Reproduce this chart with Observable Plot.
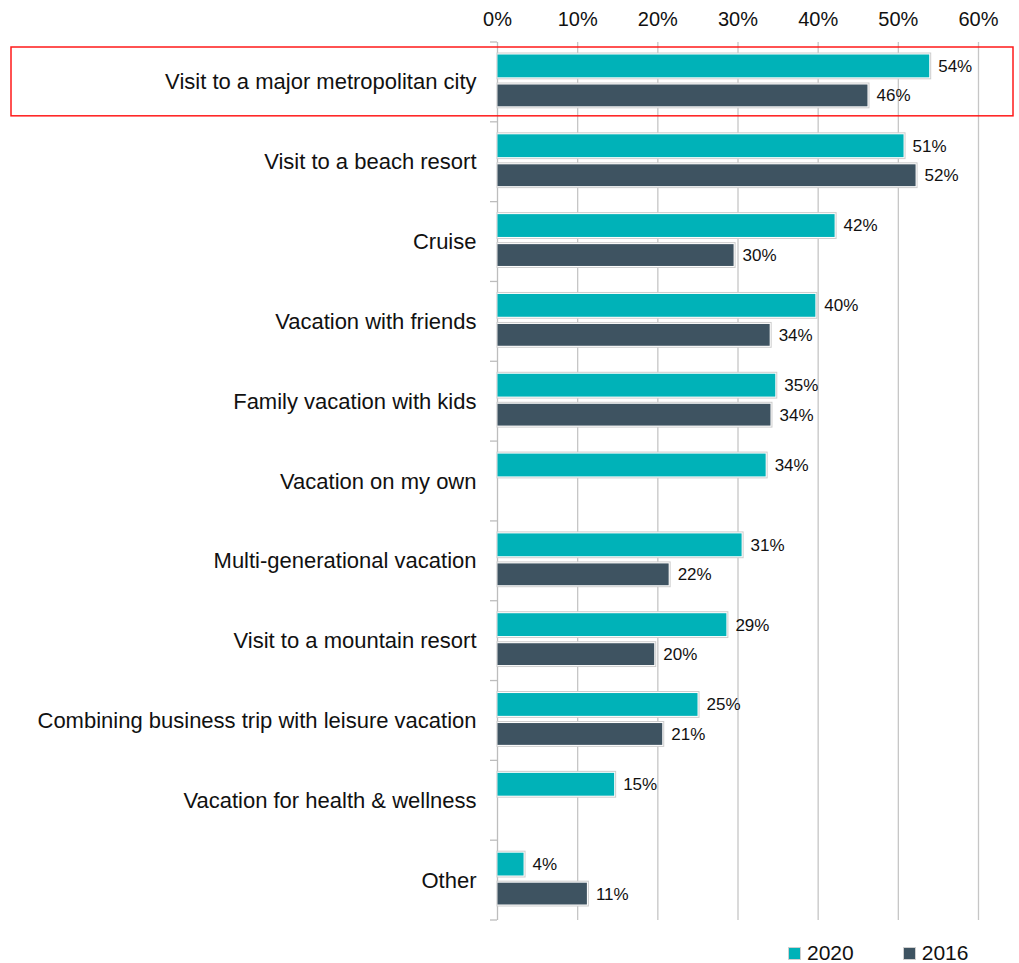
<!DOCTYPE html>
<html>
<head>
<meta charset="utf-8">
<script src="https://cdn.jsdelivr.net/npm/d3@7"></script>
<script src="https://cdn.jsdelivr.net/npm/@observablehq/plot@0.6"></script>
<style>
  body { margin: 0; background: #fff; font-family: "Liberation Sans", Arial, Helvetica, sans-serif; }
  #legend { display: flex; margin-left: 788px; margin-top: 4px; font-size: 21px; color: #111; height: 28px; align-items: center; }
  .item { display: flex; align-items: center; margin-right: 49px; }
  .sw { width: 11px; height: 11px; border: 1px solid #cfcfcf; margin-right: 6px; }
</style>
</head>
<body>
<div id="chart"></div>
<div id="legend"></div>
<script>
const categories = [
  "Visit to a major metropolitan city",
  "Visit to a beach resort",
  "Cruise",
  "Vacation with friends",
  "Family vacation with kids",
  "Vacation on my own",
  "Multi-generational vacation",
  "Visit to a mountain resort",
  "Combining business trip with leisure vacation",
  "Vacation for health & wellness",
  "Other"
];
const values2020 = [54.1, 50.9, 42.3, 39.9, 34.9, 33.7, 30.7, 28.8, 25.2, 14.8, 3.5];
const values2016 = [46.4, 52.4, 29.7, 34.2, 34.3, null, 21.6, 19.8, 20.8, null, 11.4];
const series = ["2020", "2016"];
const colors = ["#00b2b8", "#3e5361"];
const xTicks = [0, 10, 20, 30, 40, 50, 60];

const d2020 = categories.map((c, i) => ({category: c, value: values2020[i]})).filter(d => d.value != null);
const d2016 = categories.map((c, i) => ({category: c, value: values2016[i]})).filter(d => d.value != null);

const font = "'Liberation Sans', Arial, Helvetica, sans-serif";
const W = 1019, H = 935, mTop = 42, mBottom = 15, mLeft = 497, mRight = 41;

const barOpts = (top, bottom) => ({
  x: "value", y: "category", fill: "white", stroke: "#cdcdcd", strokeWidth: 1,
  insetTop: top, insetBottom: bottom
});
const fillOpts = (top, bottom, fill) => ({
  x: "value", y: "category", fill, insetTop: top + 1.5, insetBottom: bottom + 1.5, insetRight: 1.5, insetLeft: 0.5
});

const chart = Plot.plot({
  width: W, height: H,
  marginTop: mTop, marginBottom: mBottom, marginLeft: mLeft, marginRight: mRight,
  style: {fontFamily: font, color: "#111", background: "white"},
  x: {domain: [0, 60], axis: null},
  y: {domain: categories, padding: 0, round: false, axis: null},
  marks: [
    Plot.gridX(xTicks.filter(t => t > 0), {stroke: "#c6c6c6", strokeOpacity: 1, strokeWidth: 1.3}),
    Plot.ruleX([0], {stroke: "#bdbdbd", strokeWidth: 1.3}),
    Plot.axisX(xTicks, {anchor: "top", label: null, tickSize: 0, tickPadding: 17, fontSize: 20, tickFormat: d => d + "%", fill: "#111"}),
    Plot.axisY({label: null, tickSize: 0, tickPadding: 21, fontSize: 22, fill: "#111"}),
    Plot.barX(d2020, barOpts(11, 43)),
    Plot.barX(d2020, fillOpts(11, 43, colors[0])),
    Plot.barX(d2016, barOpts(41, 14)),
    Plot.barX(d2016, fillOpts(41, 14, colors[1])),
    Plot.text(d2020, {x: "value", y: "category", text: d => Math.round(d.value) + "%", dx: 7, dy: -16, textAnchor: "start", fontSize: 17, fill: "#111"}),
    Plot.text(d2016, {x: "value", y: "category", text: d => Math.round(d.value) + "%", dx: 7, dy: 13.5, textAnchor: "start", fontSize: 17, fill: "#111"})
  ]
});

// boundary ticks on the y axis and the highlight box, positioned via the plot's scales
const ys = chart.scale("y");
const svg = d3.select(chart);
const bw = ys.bandwidth;
const x0 = chart.scale("x").apply(0);
const bounds = categories.map(c => ys.apply(c)).concat([ys.apply(categories[categories.length - 1]) + bw]);
svg.append("g").selectAll("line").data(bounds).join("line")
  .attr("x1", x0 - 7).attr("x2", x0).attr("y1", d => d).attr("y2", d => d)
  .attr("stroke", "#bdbdbd").attr("stroke-width", 1.3);
const yTop = ys.apply(categories[0]);
svg.append("rect")
  .attr("x", 11).attr("y", yTop + 5).attr("width", 1002).attr("height", bw - 11)
  .attr("fill", "none").attr("stroke", "#ff1a1a").attr("stroke-width", 1.5);

document.getElementById("chart").append(chart);

const legend = d3.select("#legend");
series.forEach((s, i) => {
  const it = legend.append("div").attr("class", "item");
  it.append("div").attr("class", "sw").style("background", colors[i]);
  it.append("span").text(s);
});
</script>
</body>
</html>
